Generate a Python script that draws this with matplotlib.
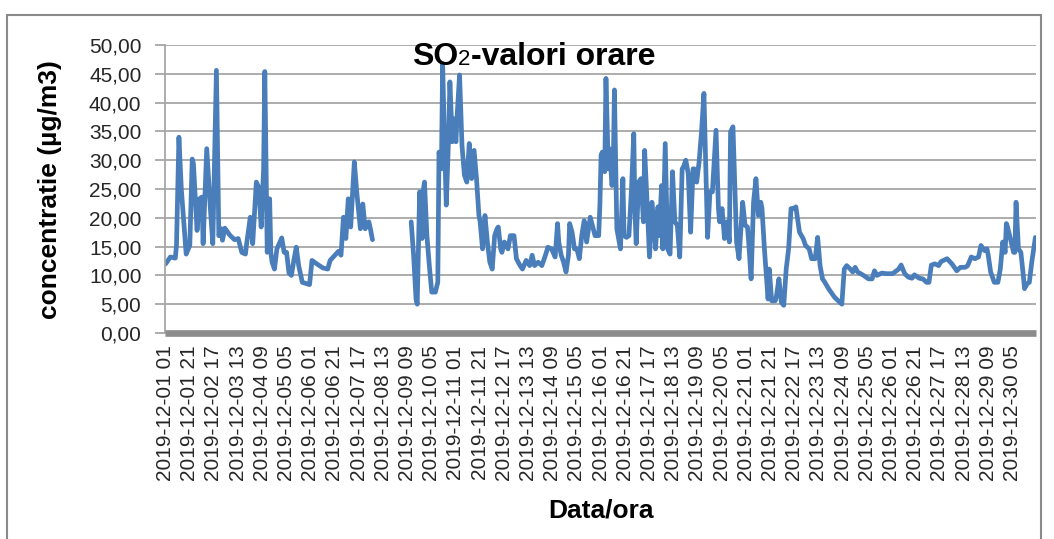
import datetime as dt

import matplotlib
matplotlib.use("Agg")
import matplotlib.pyplot as plt
import numpy as np
from matplotlib.offsetbox import AnnotationBbox, HPacker, TextArea
from matplotlib.patches import Rectangle

# hourly SO2 readings; hour = hours since 2019-12-01 01:00
START = dt.datetime(2019, 12, 1, 1)
N_HOURS = 720
hours = [
    0, 4, 8, 9, 11, 13, 15, 17, 20, 22, 23, 26, 28, 30, 31, 34, 37, 39, 42, 44,
    46, 47, 49, 53, 57, 60, 63, 66, 67, 70, 72, 75, 77, 79, 81, 82, 84, 86, 87, 88,
    90, 92, 96, 98, 100, 102, 104, 106, 108, 110, 113, 119, 121, 125, 130, 134, 136, 140, 143, 145,
    147, 149, 151, 153, 156, 158, 161, 163, 165, 168, 169, 171, 172,
    203, 205, 207, 208, 210, 212, 213, 214, 216, 218, 220, 223, 225, 226, 228, 229, 231, 232, 234, 235,
    237, 238, 240, 241, 243, 245, 247, 249, 251, 253, 255, 257, 259, 260, 262, 264, 266, 268, 270, 272,
    274, 275, 277, 278, 280, 283, 285, 288, 290, 293, 295, 298, 301, 303, 305, 308, 311, 314, 316, 319,
    322, 324, 325, 327, 329, 331, 333, 334, 336, 338, 340, 342, 344, 346, 348, 351, 353, 355, 358, 359,
    360, 361, 363, 364, 366, 367, 369, 370, 371, 373, 374, 376, 378, 379, 381, 383, 385, 387, 388, 389,
    391, 393, 395, 396, 398, 400, 402, 403, 405, 407, 408, 410, 411, 413, 415, 417, 419, 421, 423, 425,
    427, 428, 430, 432, 434, 436, 437, 439, 441, 443, 445, 447, 448, 450, 452, 455, 457, 458, 460, 462,
    464, 466, 467, 469, 471, 472, 474, 477, 479, 481, 482, 484, 486, 488, 490, 492, 493, 495, 497, 498,
    499, 501, 504, 505, 507, 509, 511, 513, 515, 517, 519, 521, 524, 527, 529, 532, 534, 537, 539, 541,
    543, 545, 548, 550, 553, 556, 559, 561, 563, 566, 568, 570, 572, 577, 581, 584, 586, 588, 592, 596,
    601, 606, 608, 611, 614, 617, 619, 623, 626, 629, 631, 633, 636, 639, 641, 646, 650, 654, 657, 661,
    663, 666, 669, 672, 674, 677, 679, 680, 682, 685, 688, 690, 692, 694, 695, 696, 699, 701, 702, 703,
    705, 707, 709, 710, 712, 714, 716, 719,
]
so2 = [
    12.0, 13.2, 13.0, 15.2, 34.0, 25.0, 19.3, 13.7, 15.2, 30.2, 29.4, 17.8, 23.3, 23.6, 15.5, 32.0, 21.6, 15.5, 45.6, 16.9,
    18.1, 16.1, 18.2, 17.0, 16.2, 16.4, 14.0, 13.7, 15.5, 20.1, 15.5, 26.2, 25.3, 18.4, 28.5, 45.4, 14.0, 23.3, 14.0, 12.3,
    11.1, 14.6, 16.5, 14.0, 14.0, 10.4, 10.0, 12.6, 14.9, 11.7, 8.8, 8.4, 12.6, 12.0, 11.3, 11.1, 12.6, 13.5, 14.2, 13.5,
    20.1, 16.4, 23.3, 18.4, 29.7, 24.5, 18.1, 22.4, 18.1, 19.3, 18.4, 16.2, np.nan,
    19.3, 13.5, 5.9, 5.0, 24.5, 16.4, 24.8, 26.2, 16.9, 11.7, 7.1, 7.1, 8.8, 31.4, 28.5, 46.8, 29.7, 22.2, 34.3, 43.6,
    33.2, 37.2, 33.2, 37.8, 44.8, 32.6, 27.4, 26.2, 32.9, 26.8, 31.7, 26.8, 20.4, 19.3, 14.6, 20.4, 15.8, 12.3, 11.1, 16.9,
    18.1, 18.4, 14.6, 14.0, 15.8, 14.6, 16.9, 16.9, 12.9, 11.7, 11.1, 12.6, 11.7, 13.5, 11.7, 12.3, 11.7, 13.5, 14.9, 14.6,
    13.2, 19.0, 15.8, 13.5, 12.3, 10.6, 13.5, 19.0, 17.5, 14.6, 14.6, 12.9, 16.9, 19.5, 15.8, 20.1, 18.5, 16.9, 16.9, 22.2,
    30.9, 31.4, 28.0, 44.2, 28.5, 32.0, 25.6, 28.0, 42.2, 18.1, 16.9, 14.6, 26.8, 16.9, 16.6, 16.9, 24.5, 34.6, 21.0, 15.5,
    26.2, 26.8, 19.3, 31.7, 22.7, 13.2, 22.7, 20.4, 14.6, 21.9, 16.9, 25.6, 14.6, 32.9, 14.6, 13.7, 28.0, 19.3, 18.7, 13.2,
    28.5, 28.8, 30.0, 27.7, 17.5, 28.5, 28.5, 26.2, 29.7, 34.9, 41.6, 25.0, 16.6, 24.5, 24.5, 35.2, 21.6, 19.3, 21.6, 16.4,
    19.3, 15.8, 34.9, 35.8, 22.7, 15.8, 12.9, 22.7, 18.7, 18.4, 15.8, 9.4, 22.7, 26.8, 20.4, 22.7, 21.6, 14.6, 8.8, 5.9,
    11.1, 5.6, 5.6, 6.5, 9.4, 5.3, 4.8, 11.1, 14.6, 21.6, 21.6, 21.9, 17.5, 16.4, 15.2, 14.6, 12.9, 12.9, 16.6, 11.7,
    9.4, 8.8, 7.7, 7.1, 6.2, 5.6, 5.0, 11.1, 11.7, 11.1, 10.6, 11.4, 10.6, 10.0, 9.4, 9.4, 10.8, 10.0, 10.4, 10.3,
    10.3, 11.1, 11.8, 10.3, 9.7, 9.5, 10.1, 9.5, 9.4, 8.8, 8.8, 11.8, 12.0, 11.7, 12.4, 12.9, 12.0, 10.8, 11.4, 11.4,
    11.7, 13.2, 12.9, 13.2, 15.2, 14.3, 14.6, 13.5, 10.6, 8.8, 8.8, 11.1, 15.8, 14.0, 19.0, 18.4, 15.8, 14.0, 14.0, 22.7,
    14.6, 14.0, 10.0, 7.7, 8.5, 8.8, 12.3, 16.6,
]
tick_step = 20  # one category label every 20 hours
y_ticks = np.arange(0, 50.1, 5)

LINE = "#4a7ebb"
GRID = "#a6a6a6"
AXIS = "#8c8c8c"
FONT = "Liberation Sans"

W, H = 1054, 539
fig = plt.figure(figsize=(W / 100, H / 100), dpi=100)
ax = fig.add_axes([165 / W, 1 - 333 / H, (1036 - 165) / W, (333 - 45) / H])

ax.plot(hours, so2, color=LINE, lw=3.4, solid_joinstyle="round", solid_capstyle="round")

ax.set_xlim(-0.5, N_HOURS - 0.5)
ax.set_ylim(0, 50)
ax.set_yticks(y_ticks)
ax.set_yticklabels([f"{v:.2f}".replace(".", ",") for v in y_ticks],
                   fontsize=15, family=FONT, color="#262626")
ax.yaxis.grid(True, color=GRID, lw=1.3)
ax.set_axisbelow(True)

xt = np.arange(0, N_HOURS - tick_step + 1, tick_step)
ax.set_xticks(xt)
ax.set_xticklabels([(START + dt.timedelta(hours=int(h))).strftime("%Y-%m-%d %H") for h in xt],
                   rotation=90, fontsize=15, family=FONT, color="#262626")
ax.tick_params(axis="x", length=0, pad=9)
ax.tick_params(axis="y", length=7, width=1.3, color=GRID, pad=10)

for side in ("top", "right"):
    ax.spines[side].set_visible(False)
ax.spines["left"].set_color(GRID)
ax.spines["left"].set_linewidth(1.3)
ax.spines["bottom"].set_color(AXIS)
ax.spines["bottom"].set_linewidth(4.8)
ax.spines["bottom"].set_capstyle("butt")
ax.spines["bottom"].set_zorder(3)

fig.text(50 / W, 1 - 190 / H, "concentratie (µg/m3)", rotation=90, ha="center", va="center",
         fontsize=19, fontweight="bold", family=FONT)
fig.text(601 / W, 1 - 510 / H, "Data/ora", ha="center", va="center",
         fontsize=19, fontweight="bold", family=FONT)

tprops = dict(fontsize=23, fontweight="bold", family=FONT)
title = HPacker(children=[TextArea("SO", textprops=tprops),
                          TextArea("2", textprops=dict(tprops, fontsize=16, fontweight="normal")),
                          TextArea("-valori orare", textprops=tprops)],
                align="baseline", pad=0, sep=0)
fig.add_artist(AnnotationBbox(title, (412 / W, 1 - 72 / H), xycoords="figure fraction",
                              box_alignment=(0, 0), frameon=False))

fig.add_artist(Rectangle((7 / W, -0.05), (1041 - 7) / W, 1.05 - 15 / H, transform=fig.transFigure,
                         fill=False, edgecolor="#8a8a8a", lw=1.5))

fig.savefig("out.png", dpi=100)
